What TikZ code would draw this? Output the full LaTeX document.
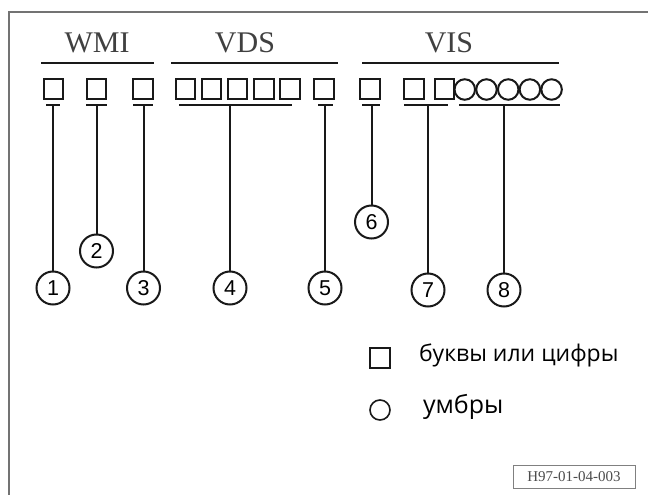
\documentclass[tikz,border=0pt]{standalone}
\usepackage{fontspec}
\setmainfont{Liberation Serif}
\newfontfamily\numfont{Liberation Sans}
\newfontfamily\legfont{Open Sans}

\begin{document}
\begin{tikzpicture}[x=1pt, y=-1pt, line width=2pt, draw=black!90,
  every node/.style={inner sep=0pt},
  grp/.style={font=\fontsize{30}{30}\selectfont, text=black!75, anchor=base},
  ch/.style={draw, minimum size=19.5pt},
  um/.style={draw, circle, minimum size=20.5pt},
  num/.style={draw, circle, minimum size=33pt, font=\numfont\fontsize{21.5}{21.5}\selectfont},
  leg/.style={anchor=base west, font=\legfont\fontsize{23}{23}\selectfont}]
  \useasboundingbox (0,0) rectangle (648,495);

  % Frame
  \draw[black!55, line width=1.8pt] (9,495) -- (9,12) -- (648,12);

  % Group headings
  \node[grp] (wmi) at (97,53) {WMI};
  \node[grp] (vds) at (245,53) {VDS};
  \node[grp] (vis) at (449,53) {VIS};
  \draw (41,63) -- (154,63);
  \draw (171,63) -- (338,63);
  \draw (362,63) -- (559,63);

  % Character positions
  \node[ch] (c1) at (53.5,89) {};
  \node[ch] (c2) at (96.5,89) {};
  \node[ch] (c3) at (143,89) {};
  \foreach \i/\x in {1/185.5, 2/211.6, 3/237.7, 4/263.8, 5/289.9}
    \node[ch] (v\i) at (\x,89) {};
  \node[ch] (c5) at (324,89) {};
  \node[ch] (c6) at (370,89) {};
  \node[ch] (s1) at (414,89) {};
  \node[ch] (s2) at (444.5,89) {};
  \foreach \i in {0,...,4}
    \node[um] (o\i) at (464.8+21.7*\i,89.5) {};

  % Brackets under the positions
  \draw (46,105) -- (60,105);
  \draw (86,105) -- (107,105);
  \draw (133,105) -- (153,105);
  \draw (179,105) -- (292,105);
  \draw (318,105) -- (333,105);
  \draw (362,105) -- (380,105);
  \draw (404,105) -- (448,105);
  \draw (459,105) -- (560,105);
  \coordinate (b1) at (53,105);
  \coordinate (b2) at (96.5,105);
  \coordinate (b3) at (143.5,105);
  \coordinate (b4) at (230,105);
  \coordinate (b5) at (325,105);
  \coordinate (b6) at (371.5,105);
  \coordinate (b7) at (428,105);
  \coordinate (b8) at (504,105);

  % Numbered callouts
  \node[num] (n1) at (53,288) {1};
  \node[num] (n2) at (96.5,251) {2};
  \node[num] (n3) at (143.5,288) {3};
  \node[num] (n4) at (230,288) {4};
  \node[num] (n5) at (325,288) {5};
  \node[num] (n6) at (371.5,222) {6};
  \node[num] (n7) at (428,290) {7};
  \node[num] (n8) at (504,290) {8};
  \foreach \i in {1,...,8}
    \draw (b\i) -- (n\i);

  % Legend
  \node[ch, line width=1.6pt] (kch) at (380,358) {};
  \node[leg] (kchtxt) at (418,361) {буквы или цифры};
  \node[um, minimum size=20pt, line width=1.6pt] (kum) at (380,410) {};
  \node[leg, font=\legfont\fontsize{25}{25}\selectfont] (kumtxt) at (422,413) {умбры};

  % Drawing code
  \node[draw=black!50, line width=1pt, minimum width=122pt, minimum height=23pt,
        font=\fontsize{15}{15}\selectfont, text=black!70] (code) at (574,476.5) {H97-01-04-003};
\end{tikzpicture}
\end{document}
